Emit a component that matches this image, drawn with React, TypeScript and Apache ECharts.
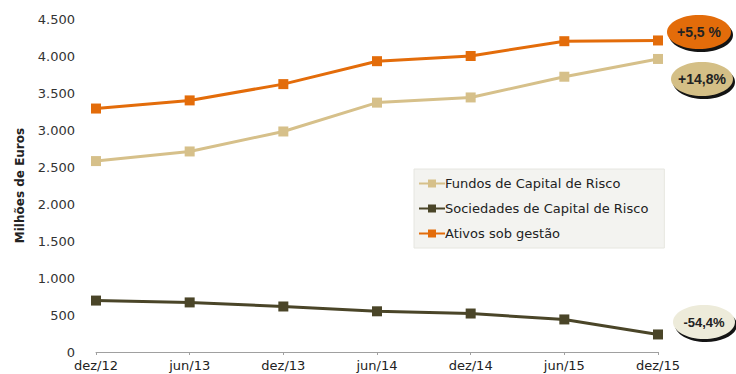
import React, { useEffect, useRef } from "react";
import * as echarts from "echarts";

const categories = ["dez/12", "jun/13", "dez/13", "jun/14", "dez/14", "jun/15", "dez/15"];
const fundos = [2580, 2710, 2980, 3370, 3440, 3720, 3960];
const sociedades = [695, 670, 615, 550, 520, 440, 237];
const ativos = [3290, 3400, 3620, 3930, 4000, 4200, 4210];
const seriesNames = ["Fundos de Capital de Risco", "Sociedades de Capital de Risco", "Ativos sob gestão"];
const badgeTexts = ["+5,5 %", "+14,8%", "-54,4%"];

const fmt = (v: number) => (v === 0 ? "0" : v >= 1000 ? `${Math.floor(v / 1000)}.${String(v % 1000).padStart(3, "0")}` : String(v));

const FONT = "'DejaVu Sans', Arial, sans-serif";

export default function App() {
  const ref = useRef<HTMLDivElement>(null);
  useEffect(() => {
    const chart = echarts.init(ref.current!, null, { renderer: "svg" });
    const colors = ["#D6C08A", "#4A4528", "#E36C0A"];
    const mk = (name: string, data: number[], color: string, z: number) => ({
      name,
      type: "line",
      data,
      symbol: "rect",
      symbolSize: 10,
      z,
      lineStyle: { color, width: 3 },
      itemStyle: { color },
    });
    const badge = (cx: number, cy: number, rx: number, fill: string, text: string, size: number) => ({
      type: "group",
      children: [
        { type: "ellipse", shape: { cx: cx + 2, cy: cy + 3, rx, ry: 17 }, style: { fill: "#141414" } },
        { type: "ellipse", shape: { cx, cy, rx, ry: 17 }, style: { fill } },
        {
          type: "text",
          x: cx,
          y: cy,
          style: { text, fill: "#222", font: `bold ${size}px Arial, 'Liberation Sans', sans-serif`, align: "center", verticalAlign: "middle" },
        },
      ],
    });
    chart.setOption({
      animation: false,
      grid: { left: 96, right: 78, top: 19, bottom: 22 },
      legend: {
        orient: "vertical",
        left: 414,
        top: 169,
        data: seriesNames,
        itemWidth: 26,
        itemHeight: 10,
        itemGap: 12,
        padding: [8, 16, 8, 4],
        backgroundColor: "#F3F3F0",
        borderColor: "#E6E6E0",
        borderWidth: 1,
        textStyle: { fontFamily: FONT, fontSize: 13, color: "#222", padding: [0, 0, 0, -5] },
      },
      xAxis: {
        type: "category",
        data: categories,
        boundaryGap: false,
        axisLine: { lineStyle: { color: "#A0A0A0" } },
        axisTick: { show: true, alignWithLabel: true, length: 3, lineStyle: { color: "#A0A0A0" } },
        axisLabel: { color: "#222", fontSize: 13, fontFamily: FONT, margin: 7 },
      },
      yAxis: {
        type: "value",
        min: 0,
        max: 4500,
        interval: 500,
        name: "Milhões de Euros",
        nameLocation: "middle",
        nameGap: 70,
        nameRotate: 90,
        nameTextStyle: { fontFamily: FONT, fontSize: 12, fontWeight: "bold", color: "#222" },
        splitLine: { show: false },
        axisLine: { show: false },
        axisTick: { show: false },
        axisLabel: { color: "#333", fontSize: 13, fontFamily: FONT, margin: 21, formatter: fmt },
      },
      series: [
        mk(seriesNames[0], fundos, colors[0], 3),
        mk(seriesNames[1], sociedades, colors[1], 2),
        mk(seriesNames[2], ativos, colors[2], 4),
      ],
      graphic: [
        badge(699, 32, 32, "#E36C0A", badgeTexts[0], 14),
        badge(702, 79, 31, "#D4BF86", badgeTexts[1], 14),
        badge(704, 322, 31, "#EDEBDA", badgeTexts[2], 13),
      ],
    });
    return () => chart.dispose();
  }, []);
  return <div ref={ref} style={{ width: 736, height: 374, position: "absolute", left: 0, top: 0, background: "#fff" }} />;
}
